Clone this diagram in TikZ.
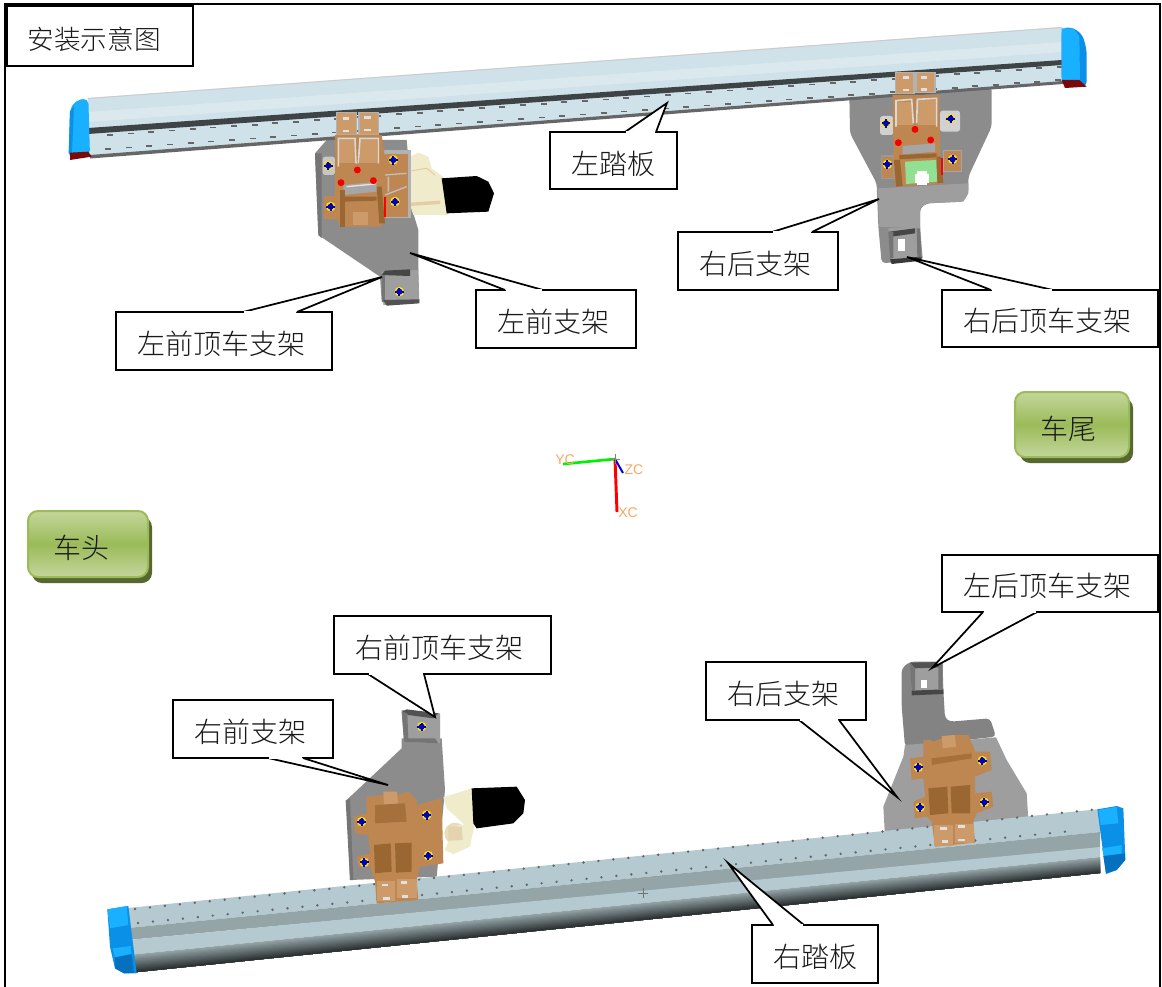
\documentclass[tikz,border=0pt]{standalone}
\usepackage{fontspec}
\setmainfont{Noto Sans CJK SC Light}
\newfontfamily\axisfont{Liberation Sans}
\definecolor{brk}{HTML}{8C8C8C}
\definecolor{brkd}{HTML}{757575}
\definecolor{brkl}{HTML}{9E9E9E}
\definecolor{brn}{HTML}{BE8752}
\definecolor{brnl}{HTML}{CC9B69}
\definecolor{brnd}{HTML}{9A6632}
\definecolor{crm}{HTML}{EFEBCB}
\definecolor{capb}{HTML}{18B0FF}
\definecolor{capm}{HTML}{0A90E6}
\definecolor{capd}{HTML}{0670C0}
\definecolor{capr}{HTML}{7A0A0A}
\definecolor{barup}{HTML}{CFE2E9}
\definecolor{bartop}{HTML}{B5CAD0}
\definecolor{barmid}{HTML}{94A4A7}
\definecolor{btnl}{HTML}{C3D69B}
\definecolor{btnm}{HTML}{9BBB59}
\definecolor{btnd}{HTML}{56672F}
\definecolor{axor}{HTML}{F5A860}
\tikzset{
 lbl/.style={draw=black,fill=white,line width=1.5pt,inner sep=0pt,outer sep=0pt,font=\fontsize{21}{24}\selectfont,text=black!90},
 ptrline/.style={draw=black,line width=1.3pt,line join=miter},
 btn/.style={rounded corners=7.5pt,draw=btnm,line width=1.5pt},
 btnface/.style={rounded corners=7.5pt,top color=btnl,bottom color=btnl,middle color=btnm},
 btntext/.style={font=\fontsize{21}{24}\selectfont,text=black!90,inner sep=0pt},
 axlabel/.style={text=axor,font=\axisfont\fontsize{10.5}{11}\selectfont,inner sep=0pt},
 zone/.style={x=.25pt,y=-.25pt},
}
\newcommand{\ltf}[1]{\raisebox{-9.8pt}[0pt][0pt]{\makebox[0pt]{\kern-4.5pt #1}}}
\newcommand{\ltt}[1]{\raisebox{-10pt}[0pt][0pt]{\makebox[0pt]{#1}}}
\newcommand{\bolt}[2]{%
 \fill[yellow!90!orange] (#1,#2) circle (3.6pt);
 \fill[blue!75!black] (#1,#2) circle (2.3pt);
 \fill[blue!75!black] ([shift={(-3.2pt,-.7pt)}]#1,#2) rectangle ([shift={(3.2pt,.7pt)}]#1,#2);
 \fill[blue!75!black] ([shift={(-.7pt,-3.4pt)}]#1,#2) rectangle ([shift={(.7pt,3pt)}]#1,#2);
}
\newcommand{\slot}[2]{\fill[black!12] ([shift={(-2.5pt,-1pt)}]#1,#2) rectangle ([shift={(2.5pt,1pt)}]#1,#2);}
\newcommand{\reddot}[2]{\fill[red!95!black] (#1,#2) circle (2.6pt);}
\newcommand{\shadeband}[6]{%
 \foreach \k in {0,...,14}{%
  \pgfmathsetmacro{\pc}{100-\k*100/14}
  \colorlet{stripc}{barmid!\pc!black!70!barmid}
  \pgfmathsetmacro{\ya}{#3+\k*(#5-#3)/15}
  \pgfmathsetmacro{\yb}{#4+\k*(#6-#4)/15}
  \fill[stripc] (#1,\ya) -- (#2,\yb) -- (#2,#6) -- (#1,#5) -- cycle;
 }}
\newcommand{\pointer}[6]{%
 \coordinate (#1-a) at (#2,#4);
 \coordinate (#1-b) at (#3,#4);
 \coordinate (#1-t) at (#5,#6);
 \fill[white] (#1-a) -- (#1-t) -- (#1-b) -- cycle;
 \draw[ptrline] (#1-a) -- (#1-t) -- (#1-b);
 \draw[white,line width=1.7pt] ($(#1-a)+(1.2,0)$) -- ($(#1-b)+(-1.2,0)$);
}
\usetikzlibrary{calc}
\begin{document}
\begin{tikzpicture}[x=.75pt,y=-.75pt]
\useasboundingbox (0,0) rectangle (1162,987);
\fill[white] (0,0) rectangle (1162,987);
\coordinate (fr-bl) at (5,987);
\coordinate (fr-tl) at (5,4);
\coordinate (fr-tr) at (1160,4);
\coordinate (fr-br) at (1160,987);
\draw[black,line width=1.5pt] (fr-bl) -- (fr-tl) -- (fr-tr) -- (fr-br);

%% === brackets behind the bars ===
\begin{scope}[shift={(60,0)},zone]
 \fill[brk] (765,460) -- (775,705) -- (960,830) -- (965,905) -- (1000,915) -- (1075,905) -- (1075,690) -- (1060,640) -- (1040,420) -- (800,420) -- cycle;
 \fill[brkd] (765,460) -- (785,460) -- (785,715) -- (775,705) -- cycle;
 \fill[brkl] (965,815) -- (1075,810) -- (1078,905) -- (970,915) -- cycle;
 \fill[brkd!60!black] (965,825) -- (975,812) -- (1050,808) -- (1050,828) -- cycle;
 \fill[brkd] (965,825) -- (975,825) -- (975,905) -- (965,905) -- cycle;
 \fill[brkd!70!black] (970,900) -- (1078,898) -- (1078,910) -- (980,917) -- cycle;
 \bolt{1018}{875}
\end{scope}
\begin{scope}[shift={(780,20)},zone]
 \fill[brk,rounded corners=3pt] (208,225) -- (210,340) -- (290,490) -- (295,620) -- (305,730) -- (420,720) -- (420,565) -- (440,550) -- (550,545) -- (565,520) -- (565,470) -- (635,320) -- (635,200) -- cycle;
 \fill[brkl] (293,505) -- (565,490) -- (565,520) -- (550,545) -- (440,550) -- (420,565) -- (420,625) -- (297,620) -- cycle;
 \fill[brkl] (325,625) -- (420,620) -- (428,715) -- (335,730) -- cycle;
 \fill[brkd!60!black] (328,635) -- (405,625) -- (405,640) -- (335,650) -- cycle;
 \fill[brkd!50!black] (330,718) -- (425,710) -- (425,722) -- (335,732) -- cycle;
 \fill[brkd] (325,635) -- (340,635) -- (340,715) -- (330,715) -- cycle;
 \fill[brkd] (410,625) -- (420,625) -- (425,712) -- (412,712) -- cycle;
 \fill[white] (355,658) rectangle (375,692);
\end{scope}
\begin{scope}[shift={(100,690)},zone]
 \fill[brk] (905,145) -- (905,175) -- (740,330) -- (750,570) -- (1010,560) -- (1035,300) -- (1025,145) -- cycle;
 \fill[brkd] (737,332) -- (750,325) -- (760,570) -- (750,570) -- cycle;
 \fill[brkl] (905,60) -- (1020,70) -- (1020,160) -- (912,155) -- cycle;
 \fill[brkd!70!black] (907,65) -- (920,58) -- (1015,70) -- (1000,85) -- (925,75) -- cycle;
 \fill[brkd] (905,65) -- (922,70) -- (925,150) -- (912,155) -- cycle;
 \fill[brkd] (925,145) -- (1005,145) -- (1015,160) -- (912,155) -- cycle;
 \bolt{965}{110}
\end{scope}
\begin{scope}[shift={(860,650)},zone]
 \fill[brkd!90!white,rounded corners=3pt] (125,55) -- (150,35) -- (245,35) -- (255,205) -- (270,215) -- (390,205) -- (408,260) -- (135,290) -- (125,170) -- cycle;
 \fill[brkl] (135,285) -- (408,262) -- (440,330) -- (500,430) -- (505,510) -- (75,560) -- (70,470) -- (130,320) -- cycle;
 \fill[brkl] (152,40) -- (248,38) -- (250,130) -- (155,135) -- cycle;
 \fill[brkd!70!black] (150,38) -- (248,36) -- (240,52) -- (165,55) -- cycle;
 \fill[brkd] (150,38) -- (165,55) -- (165,120) -- (155,125) -- cycle;
 \fill[brkd!60!black] (155,122) -- (250,118) -- (250,132) -- (155,136) -- cycle;
 \fill[brkd] (235,50) -- (248,38) -- (248,120) -- (235,120) -- cycle;
 \fill[white] (183,90) rectangle (202,115);
\end{scope}

%% === top bar ===
\fill[barup] (88,98) -- (1062,27) -- (1062,62) -- (88,130) -- cycle;
\fill[barup!75!white] (88,112) -- (1062,42) -- (1062,52) -- (88,122) -- cycle;
\fill[barup] (88,132) -- (1062,63) -- (1063,82) -- (90,157) -- cycle;
\fill[black!70!barup] (88,128) -- (1062,60) -- (1062,65) -- (88,134) -- cycle;
\fill[black!60] (90,155) -- (1063,81) -- (1063,84) -- (90,158.5) -- cycle;
\fill[black!20] (88,98) -- (1062,27) -- (1062,28) -- (88,99) -- cycle;
\foreach \n in {0,...,46}{
 \pgfmathsetmacro{\xa}{110+\n*20.65}
 \pgfmathsetmacro{\ya}{135-(\xa-110)*.0718}
 \fill[black!60] (\xa-3,\ya-.9) rectangle (\xa+3,\ya+.9);
 \pgfmathsetmacro{\xb}{108+\n*20.65}
 \pgfmathsetmacro{\yb}{149-(\xb-108)*.0725}
 \fill[black!60] (\xb-3,\yb-.9) rectangle (\xb+3,\yb+.9);
}
\begin{scope}[shift={(60,0)},zone]
 \fill[capb,rounded corners=4pt] (85,295) -- (50,300) -- (30,325) -- (26,475) -- (90,468) -- cycle;
 \fill[capm] (30,335) -- (42,318) -- (36,460) -- (26,460) -- cycle;
 \fill[capr] (30,458) -- (85,455) -- (95,470) -- (30,480) -- cycle;
\end{scope}
\begin{scope}[shift={(1040,0)},zone]
 \fill[capm,rounded corners=4pt] (65,83) -- (100,83) -- (128,105) -- (140,150) -- (140,262) -- (65,245) -- cycle;
 \fill[capb] (65,85) -- (100,85) -- (118,110) -- (120,240) -- (65,240) -- cycle;
 \fill[capr] (65,240) -- (118,240) -- (140,260) -- (75,264) -- cycle;
\end{scope}

%% === bottom bar ===
\fill[bartop] (128,908) -- (1100,809) -- (1100,832) -- (128,928) -- cycle;
\fill[barmid] (128,928) -- (1100,832) -- (1100,848) -- (128,940) -- cycle;
\fill[bartop] (128,940) -- (1100,847) -- (1100,857) -- (128,955) -- cycle;
\shadeband{128}{1100}{955}{857}{973}{873}
\foreach \n in {0,...,64}{
 \pgfmathsetmacro{\xa}{135+\n*14.95}
 \pgfmathsetmacro{\ya}{909-(\xa-135)*.1037}
 \fill[black!60] (\xa,\ya) circle (1pt);
 \pgfmathsetmacro{\xb}{138+\n*14.95}
 \pgfmathsetmacro{\yb}{923-(\xb-138)*.0985}
 \ifnum\n<63 \fill[black!60] (\xb,\yb) circle (1pt);\fi
}
\draw[black!55,line width=.6pt] (638,893) -- (648,893) (643,888) -- (643,898);
\begin{scope}[shift={(0,880)},zone]
 \fill[capm] (322,88) -- (385,78) -- (410,280) -- (372,280) -- (345,265) -- (330,200) -- cycle;
 \fill[capb] (322,88) -- (380,78) -- (385,135) -- (330,145) -- cycle;
 \fill[capb] (338,205) -- (392,198) -- (395,225) -- (345,235) -- cycle;
 \fill[capd] (345,232) -- (395,222) -- (402,278) -- (372,280) -- (345,265) -- cycle;
\end{scope}
\begin{scope}[shift={(860,650)},zone]
 \fill[capm] (712,478) -- (770,468) -- (790,475) -- (796,630) -- (770,660) -- (738,672) -- cycle;
 \fill[capb] (715,480) -- (770,470) -- (775,520) -- (722,525) -- cycle;
 \fill[capb] (726,595) -- (785,585) -- (785,612) -- (732,620) -- cycle;
 \fill[capd] (730,618) -- (795,610) -- (795,630) -- (770,660) -- (738,670) -- cycle;
\end{scope}

%% === top-left mechanism ===
\begin{scope}[shift={(60,0)},zone]
 \fill[crm] (1050,470) -- (1075,458) -- (1105,470) -- (1115,505) -- (1135,520) -- (1150,530) -- (1165,645) -- (1060,645) -- (1045,600) -- (1045,540) -- cycle;
 \draw[crm!70!brown,line width=.7pt] (1055,512) -- (1100,505) -- (1125,525);
 \fill[crm!72!brown] (1050,608) -- (1140,602) -- (1140,612) -- (1050,618) -- cycle;
 \fill[black] (1145,535) -- (1250,528) -- (1285,545) -- (1302,580) -- (1285,635) -- (1160,640) -- cycle;
 \fill[black!22,rounded corners=2pt] (788,470) rectangle (825,525);
 \bolt{805}{497}
 \fill[brn,draw=black!45,line width=.8pt] (790,585) rectangle (832,660);
 \bolt{812}{620}
 \fill[black!30] (965,450) rectangle (1052,655);
 \fill[brn] (975,462) rectangle (1045,650);
 \draw[black!25,line width=1pt] (975,525) -- (1040,520) (985,530) -- (985,575) (975,585) -- (1040,560);
 \bolt{1000}{480}
 \bolt{1005}{605}
 \fill[brnl,draw=black!30,line width=1pt] (830,338) rectangle (890,405);
 \fill[brnl,draw=black!30,line width=1pt] (897,338) rectangle (955,405);
 \slot{858}{355}\slot{858}{393}\slot{922}{352}\slot{922}{390}
 \fill[brn] (825,405) -- (965,405) -- (975,470) -- (975,665) -- (960,680) -- (840,680) -- (825,640) -- cycle;
 \fill[brnl] (838,415) rectangle (885,490);
 \fill[brnl] (900,415) rectangle (952,490);
 \draw[black!15,line width=1.2pt] (835,500) -- (835,415) -- (885,415) -- (888,490) (895,490) -- (900,415) -- (955,415) -- (955,490);
 \fill[black!35] (850,555) -- (950,545) -- (950,575) -- (850,585) -- cycle;
 \draw[black!10,line width=1pt] (860,560) -- (945,552);
 \fill[brnd] (850,590) -- (950,590) -- (950,602) -- (850,605) -- cycle;
 \fill[brnd] (840,570) -- (855,570) -- (855,680) -- (840,680) -- cycle;
 \fill[brnd] (950,560) -- (965,560) -- (975,670) -- (958,670) -- cycle;
 \fill[brnl] (880,635) rectangle (925,675);
 \reddot{892}{510}\reddot{843}{548}\reddot{940}{542}
 \fill[red] (971,590) rectangle (977,650);
\end{scope}

%% === top-right mechanism ===
\begin{scope}[shift={(780,20)},zone]
 \fill[black!18,rounded corners=2pt] (300,288) rectangle (340,345);
 \bolt{318}{310}
 \fill[black!18,rounded corners=2pt] (480,272) rectangle (540,335);
 \bolt{512}{296}
 \fill[brn,draw=black!40,line width=.8pt] (305,408) rectangle (342,475);
 \bolt{322}{433}
 \fill[brn,draw=black!35,line width=.8pt] (490,392) rectangle (545,455);
 \bolt{518}{418}
 \fill[brnl,draw=black!30,line width=1pt] (347,158) rectangle (402,220);
 \fill[brnl,draw=black!30,line width=1pt] (408,158) rectangle (465,218);
 \slot{378}{172}\slot{378}{210}\slot{432}{172}\slot{432}{208}
 \fill[brn] (338,225) -- (478,225) -- (480,380) -- (490,490) -- (345,500) -- (340,400) -- cycle;
 \fill[brnl] (350,245) rectangle (400,315);
 \fill[brnl] (415,240) rectangle (468,315);
 \draw[black!15,line width=1.2pt] (348,320) -- (348,242) -- (395,238) -- (400,310) (410,310) -- (412,238) -- (470,235) -- (470,320);
 \fill[black!35] (368,378) -- (465,370) -- (465,395) -- (368,403) -- cycle;
 \fill[brnd] (358,405) -- (470,400) -- (470,412) -- (358,418) -- cycle;
 \fill[green!35!white!88!black] (375,425) -- (468,420) -- (472,485) -- (378,492) -- cycle;
 \fill[white] (405,462) rectangle (448,488);
 \fill[white] (412,452) rectangle (440,494);
 \fill[brnd] (342,420) -- (360,420) -- (368,498) -- (348,500) -- cycle;
 \fill[brnd] (470,410) -- (482,410) -- (490,488) -- (472,490) -- cycle;
 \fill[red] (484,415) rectangle (490,465);
 \reddot{405}{328}\reddot{355}{368}\reddot{452}{360}
\end{scope}

%% === bottom-left mechanism ===
\begin{scope}[shift={(100,690)},zone]
 \fill[crm] (1030,322) -- (1115,295) -- (1125,400) -- (1100,410) -- (1040,355) -- cycle;
 \fill[crm!88!brown] (1065,430) circle (8pt);
 \fill[crm] (1075,405) -- (1125,400) -- (1115,445) -- (1110,470) -- (1060,492) -- (1035,480) -- (1045,455) -- cycle;
 \fill[crm!78!brown] (1045,410) -- (1085,410) -- (1088,450) -- (1045,452) -- cycle;
 \fill[black] (1115,295) -- (1250,290) -- (1275,330) -- (1270,370) -- (1240,400) -- (1130,415) -- (1120,400) -- cycle;
 \fill[brn] (800,320) -- (850,315) -- (855,305) -- (890,305) -- (895,315) -- (925,305) -- (950,330) -- (950,345) -- (1025,325) -- (1030,520) -- (960,530) -- (950,570) -- (955,630) -- (830,640) -- (825,575) -- (810,530) -- (775,530) -- (770,500) -- (810,490) -- (805,435) -- (765,430) -- (762,380) -- (800,370) -- cycle;
 \fill[brnl] (850,305) -- (890,305) -- (895,340) -- (852,345) -- cycle;
 \fill[brnd!70!brn] (825,345) -- (915,340) -- (920,395) -- (825,400) -- cycle;
 \fill[brnd] (822,465) -- (872,460) -- (875,545) -- (825,550) -- cycle;
 \fill[brnd] (885,460) -- (935,458) -- (935,545) -- (888,548) -- cycle;
 \fill[brnl] (832,572) rectangle (885,632);
 \fill[brnl] (892,568) rectangle (950,625);
 \slot{855}{585}\slot{860}{625}\slot{912}{578}\slot{915}{620}
 \bolt{785}{395}\bolt{980}{375}\bolt{793}{517}\bolt{985}{497}
\end{scope}

%% === bottom-right mechanism ===
\begin{scope}[shift={(860,650)},zone]
 \fill[brn] (190,270) -- (210,270) -- (220,275) -- (245,265) -- (280,255) -- (325,255) -- (340,290) -- (345,305) -- (390,305) -- (395,360) -- (345,380) -- (345,430) -- (395,425) -- (400,470) -- (350,490) -- (340,515) -- (345,578) -- (225,590) -- (215,515) -- (200,500) -- (165,505) -- (160,455) -- (195,440) -- (190,385) -- (155,390) -- (150,325) -- (190,320) -- cycle;
 \fill[brnl] (245,258) -- (285,255) -- (288,290) -- (248,295) -- cycle;
 \fill[brnd!70!brn] (215,325) -- (335,310) -- (335,325) -- (215,345) -- cycle;
 \fill[brnd] (205,415) -- (262,410) -- (265,490) -- (210,495) -- cycle;
 \fill[brnd] (272,410) -- (330,405) -- (330,490) -- (275,490) -- cycle;
 \fill[brnl] (222,525) rectangle (278,588);
 \fill[brnl] (284,522) rectangle (342,578);
 \slot{250}{535}\slot{255}{575}\slot{305}{530}\slot{305}{570}
 \bolt{175}{352}\bolt{367}{332}\bolt{180}{472}\bolt{373}{457}
\end{scope}

%% === axes ===
\coordinate (ax-o) at (615,459);
\coordinate (ax-y) at (563,464);
\coordinate (ax-x) at (617,512);
\coordinate (ax-z) at (623,473);
\draw[green!95!black,line width=2pt] (ax-o) -- (ax-y);
\draw[red,line width=2.2pt] (ax-o) -- (ax-x);
\draw[blue!85!black,line width=1.5pt] (ax-o) -- (ax-z);
\draw[black!50,line width=.6pt] (610,459) -- (620,459) (615,454) -- (615,464);
\node[axlabel] (lbl-yc) at (565,460) {YC};
\node[axlabel] (lbl-zc) at (634,470) {ZC};
\node[axlabel] (lbl-xc) at (628,513) {XC};

%% === buttons ===
\coordinate (sh1a) at (1020,398); \coordinate (sh1b) at (1133,463);
\fill[btnd,rounded corners=7.5pt] (sh1a) rectangle (sh1b);
\shade[btnface] (1015,392) rectangle (1129,457);
\draw[btn] (1015,392) rectangle (1129,457);
\node[btntext] (chewei) at (1068,429) {车尾};
\coordinate (sh2a) at (32,517); \coordinate (sh2b) at (152,583);
\fill[btnd,rounded corners=7.5pt] (sh2a) rectangle (sh2b);
\shade[btnface] (28,511) rectangle (148,577);
\draw[btn] (28,511) rectangle (148,577);
\node[btntext] (chetou) at (81,548) {车头};

%% === labels ===
\node[lbl,minimum width=139.5pt,minimum height=45pt] (title) at (100,36) {};
\node[font=\fontsize{20}{24}\selectfont,text=black!90,inner sep=0pt] (titletxt) at (94,39) {安装示意图};

\node[lbl,minimum width=95.25pt,minimum height=42.75pt] (ztb) at (613.5,161) {\ltt{左踏板}};
\pointer{ztb}{625}{656}{132}{667}{103}
\node[lbl,minimum width=120pt,minimum height=43.5pt] (zqzj) at (556,319) {\ltf{左前支架}};
\pointer{zqzj}{505}{543}{290}{410}{253}
\node[lbl,minimum width=162pt,minimum height=43.5pt] (zqdc) at (224,341) {\ltf{左前顶车支架}};
\pointer{zqdc}{243}{297}{312}{382}{277}
\node[lbl,minimum width=120pt,minimum height=43.5pt] (yhzj1) at (758,261) {\ltf{右后支架}};
\pointer{yhzj1}{772}{812}{232}{879}{199}
\node[lbl,minimum width=162pt,minimum height=42.75pt] (yhdc) at (1050,318.5) {\ltf{右后顶车支架}};
\pointer{yhdc}{991}{1053}{290}{907}{257}
\node[lbl,minimum width=162pt,minimum height=42.75pt] (zhdc) at (1050,583.5) {\ltf{左后顶车支架}};
\pointer{zhdc}{983}{1037}{612}{932}{668}
\node[lbl,minimum width=162.75pt,minimum height=43.5pt] (yqdc) at (442.5,645) {\ltf{右前顶车支架}};
\pointer{yqdc}{368}{424}{674}{435}{717}
\node[lbl,minimum width=120pt,minimum height=43.5pt] (yqzj) at (253,729) {\ltf{右前支架}};
\pointer{yqzj}{268}{303}{758}{388}{785}
\node[lbl,minimum width=120pt,minimum height=43.5pt] (yhzj2) at (786,691) {\ltf{右后支架}};
\pointer{yhzj2}{799}{839}{720}{897}{797}
\node[lbl,minimum width=94.5pt,minimum height=43.5pt] (ytb) at (815,954) {\ltt{右踏板}};
\pointer{ytb}{773}{804}{925}{728}{863}
\end{tikzpicture}
\end{document}
